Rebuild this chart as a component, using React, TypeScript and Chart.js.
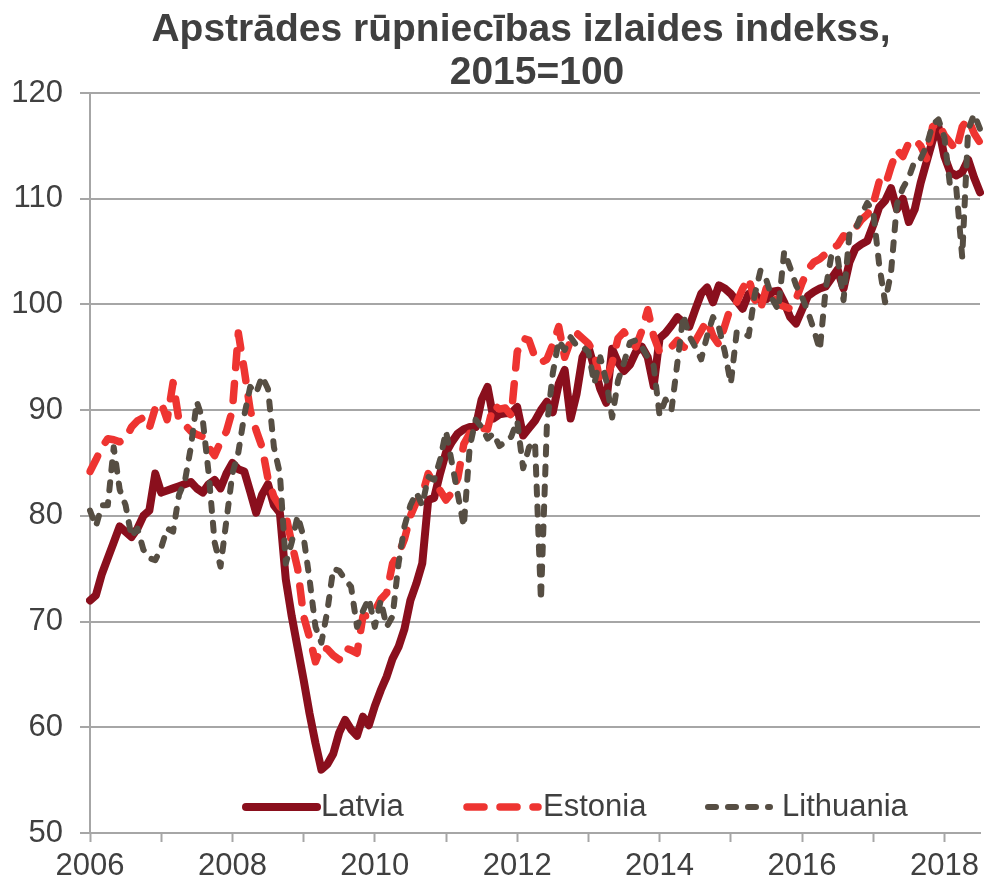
import React, { useEffect, useRef } from 'react';
import { Chart, registerables } from 'chart.js';

Chart.register(...registerables);

// ---------- data ----------
const START_YEAR = 2006;
const MONTHS = 151; // Jan 2006 .. Jul 2018
const monthLabels: string[] = Array.from({ length: MONTHS }, (_, i) =>
  `${START_YEAR + Math.floor(i / 12)}-${String((i % 12) + 1).padStart(2, '0')}`
);
const xTickLabels = ['2006', '2008', '2010', '2012', '2014', '2016', '2018'];
const yTickValues = [50, 60, 70, 80, 90, 100, 110, 120];

const seriesNames = ['Latvia', 'Estonia', 'Lithuania'];

const latvia = [
  72, 72.5, 74.5, 76, 77.5, 79, 78.5, 78, 78.8, 80, 80.5, 84,
  82.2, 82.4, 82.6, 82.8, 83, 83.2, 82.6, 82.2, 83, 83.4, 82.6, 84,
  85, 84.4, 84.2, 82.3, 80.3, 82, 83, 81, 80.3, 74, 70.5, 67.5,
  64.5, 61.3, 58.5, 56, 56.5, 57.5, 59.5, 60.7, 59.8, 59.2, 61, 60.2,
  62, 63.5, 64.8, 66.5, 67.6, 69.3, 72, 73.6, 75.5, 81.5, 81.7, 84,
  86, 87, 87.8, 88.2, 88.4, 88.4, 91, 92.2, 89.2, 89.6, 89.7, 89.7,
  90.3, 87.6, 88.3, 89, 90, 90.8, 89.8, 92.5, 93.8, 89.2, 91.5, 95,
  96, 94, 92, 90.7, 95.8, 94.5, 93.7, 94.3, 95.5, 96, 95, 92.3,
  96.8, 97.3, 98, 98.8, 98.3, 97.9, 99.5, 101, 101.6, 100.2, 101.8, 101.5,
  101, 100.3, 99.6, 101, 101, 100.4, 100.5, 101.2, 101.3, 100.2, 98.8, 98.2,
  99.5, 100.8, 101.2, 101.5, 101.7, 102.5, 103.3, 101.5, 104, 105.3, 105.7, 106,
  107.5, 109.2, 109.8, 111, 109, 110, 107.8, 109, 111.5, 113.5, 115.5, 116.8,
  114, 112.5, 112.2, 112.5, 113.7, 112, 110.6,
];

const estonia = [
  84.2, 85.3, 86.5, 87.3, 87.2, 87, 87.3, 88.4, 89, 89.3, 88.3, 90.2,
  90.7, 89.1, 92.6, 89, 88.6, 88, 87.7, 87.5, 86.5, 85.7, 87, 88,
  90, 97.3, 93.8, 90, 88.1, 86.5, 83.5, 81.8, 80.9, 80.1, 77.4, 75,
  70.5, 68.5, 66.2, 67.6, 67.4, 66.8, 66.4, 67.5, 67.3, 67, 70.5, 70.6,
  71, 72.1, 72.7, 75.5, 76.4, 77.8, 80, 81.3, 82, 84, 83, 82.4,
  81.5, 82.2, 83.6, 86.8, 87.8, 88.2, 88.3, 88.2, 90.5, 90.1, 90.2, 89.5,
  95.5, 96.8, 96.6, 95, 94.5, 94.8, 96.2, 97.9, 95, 96.6, 97.3, 96.8,
  96.3, 95.4, 92.6, 92.8, 94.5, 96.8, 97.4, 96.5, 96, 97.5, 99.5, 97,
  95.5, 95.7, 96, 96.6, 96, 95.7, 96.5, 97.5, 98.5, 97, 96.2, 98,
  99.8, 100.2, 101.5, 102.5, 100.5, 99.5, 101.6, 101, 100, 99.8, 99.6, 100.5,
  102, 103.3, 104, 104.3, 104.8, 105.3, 105.6, 106.5, 106.3, 107.2, 108, 108.5,
  109.5, 111.6, 111.2, 113, 114.6, 114, 115.3, 115.6, 115, 113.8, 116.8, 117.2,
  116, 115.3, 114.6, 116.8, 117.6, 116.2, 115.3,
];

const lithuania = [
  80.5, 79, 81, 81, 86.5, 82.5, 81, 78, 78.8, 76.8, 76, 75.8,
  77, 78.8, 78.5, 82, 83.3, 86.5, 90.8, 89.1, 84, 77.5, 75.2, 79.6,
  84, 86, 89.5, 92.2, 91.6, 93.2, 92, 86.5, 84, 75.5, 77.5, 80,
  78, 74, 69.5, 68, 71, 75, 74.8, 74, 73.3, 69.5, 71, 72.2,
  69.5, 72, 69.5, 70.5, 75.5, 79, 81, 82.2, 81, 83.7, 83.4, 85.3,
  88, 85, 82, 79, 86.5, 89.1, 88.4, 87.3, 87.8, 86.6, 87, 87.5,
  89, 84.5, 86.5, 87, 72, 88.5, 93.5, 96.6, 95.7, 96.9, 96.1, 96,
  95.5, 92.5, 95, 92.8, 89.3, 92.8, 94.5, 96.4, 96.6, 96, 95, 94.2,
  89.5, 91, 90, 94.5, 99, 97, 96, 94.8, 97, 98.8, 97.8, 95.5,
  92.5, 97.4, 97.3, 97, 100.8, 103.2, 102.3, 100.5, 99.5, 105, 103.5, 101.8,
  100.7, 99.3, 97.6, 95.7, 101.5, 104.8, 104.5, 100.4, 106.7, 107.1, 108.5, 109.6,
  108.8, 103.8, 100.2, 103, 109.5, 111, 112, 113.6, 113.8, 115, 117, 117.5,
  115.8, 111, 111, 104.5, 116.5, 118, 116.6,
];

// ---------- styles ----------
const FONT = "'Liberation Sans', Arial, Helvetica, sans-serif";
const TEXT = '#404040';
const GRID = '#a6a6a6';
const COLORS = ['#8a0f1d', '#ee3431', '#564e43'];
const WIDTHS = [8, 7.5, 6];
const DASHES: number[][] = [[], [17, 16], [8, 12]];

const titleLines = ['Apstrādes rūpniecības izlaides indekss,', '2015=100'];

const titlePlugin = {
  id: 'customTitle',
  afterDraw(chart: any) {
    const { ctx } = chart;
    ctx.save();
    ctx.font = `bold 39px ${FONT}`;
    ctx.fillStyle = TEXT;
    ctx.textAlign = 'center';
    ctx.textBaseline = 'alphabetic';
    ctx.fillText(titleLines[0], 521, 41);
    ctx.fillText(titleLines[1], 537, 84);
    ctx.restore();
  },
};

// legend sample geometry (start, end, text x)
const legendLayout = [
  { x0: 246, x1: 317, tx: 321 },
  { x0: 467, x1: 538, tx: 543 },
  { x0: 708, x1: 770, tx: 782 },
];

const legendPlugin = {
  id: 'customLegend',
  afterDraw(chart: any) {
    const { ctx, chartArea } = chart;
    const y = chartArea.bottom - 26;
    ctx.save();
    chart.data.datasets.forEach((ds: any, i: number) => {
      const L = legendLayout[i];
      ctx.beginPath();
      ctx.strokeStyle = ds.borderColor;
      ctx.lineWidth = ds.borderWidth;
      ctx.lineCap = 'round';
      ctx.setLineDash(ds.borderDash || []);
      ctx.moveTo(L.x0, y);
      ctx.lineTo(L.x1, y);
      ctx.stroke();
      ctx.setLineDash([]);
      ctx.font = `31px ${FONT}`;
      ctx.fillStyle = TEXT;
      ctx.textAlign = 'left';
      ctx.textBaseline = 'middle';
      ctx.fillText(ds.label, L.tx, y);
    });
    ctx.restore();
  },
};

export default function App() {
  const ref = useRef<HTMLCanvasElement>(null);

  useEffect(() => {
    const canvas = ref.current;
    if (!canvas) return;
    const seriesData = [latvia, estonia, lithuania];
    const chart = new Chart(canvas, {
      type: 'line',
      data: {
        labels: monthLabels,
        datasets: seriesNames.map((name, i) => ({
          label: name,
          data: seriesData[i],
          borderColor: COLORS[i],
          backgroundColor: COLORS[i],
          borderWidth: WIDTHS[i],
          borderDash: DASHES[i],
          borderCapStyle: 'round' as const,
          borderJoinStyle: 'round' as const,
          pointRadius: 0,
          tension: 0,
          fill: false,
          order: 2 - i,
        })),
      },
      options: {
        animation: false,
        responsive: false,
        devicePixelRatio: 1,
        layout: { padding: { left: 0, right: 1, top: 93, bottom: 0 } },
        plugins: {
          legend: { display: false },
          title: { display: false },
          tooltip: { enabled: false },
        },
        scales: {
          x: {
            type: 'category',
            offset: false,
            grid: {
              drawOnChartArea: false,
              drawTicks: true,
              tickLength: 9,
              tickWidth: 2,
              tickColor: (ctx: any) => (ctx.index % 12 === 0 ? GRID : 'rgba(0,0,0,0)'),
            },
            border: { display: true, color: GRID, width: 2 },
            ticks: {
              autoSkip: false,
              maxRotation: 0,
              minRotation: 0,
              padding: 6,
              color: TEXT,
              font: { family: FONT, size: 31 },
              callback: (_v: any, idx: number) => (idx % 24 === 0 ? xTickLabels[idx / 24] : ''),
            },
            afterFit: (s: any) => {
              s.height = 52;
            },
          },
          y: {
            min: yTickValues[0],
            max: yTickValues[yTickValues.length - 1],
            ticks: {
              stepSize: 10,
              padding: 17,
              color: TEXT,
              font: { family: FONT, size: 31 },
            },
            grid: { color: GRID, lineWidth: 2, tickLength: 10, drawTicks: true },
            border: { display: true, color: GRID, width: 2 },
            afterFit: (s: any) => {
              s.width = 90;
            },
          },
        },
      },
      plugins: [titlePlugin, legendPlugin],
    });
    return () => chart.destroy();
  }, []);

  return (
    <div style={{ position: 'absolute', left: 0, top: 0, width: 986, height: 885, background: '#fff' }}>
      <canvas ref={ref} width={986} height={885} style={{ display: 'block', width: 986, height: 885 }} />
    </div>
  );
}
